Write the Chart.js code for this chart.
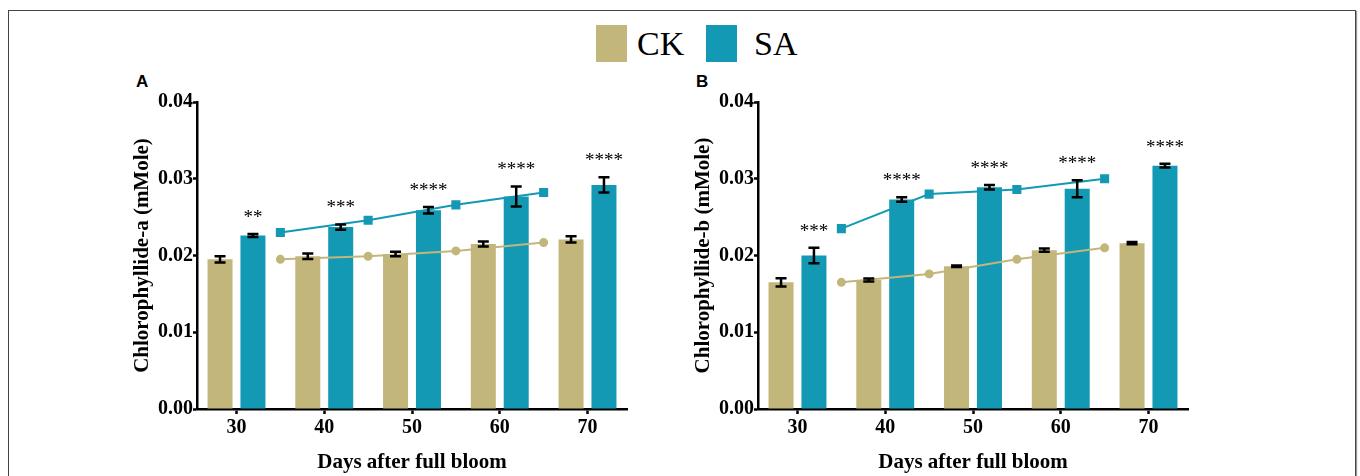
<!DOCTYPE html>
<html>
<head>
<meta charset="utf-8">
<script src="https://cdn.jsdelivr.net/npm/chart.js@4.4.1/dist/chart.umd.min.js"></script>
<style>
  html, body { margin: 0; padding: 0; background: #fff; }
  #wrap { position: relative; width: 1360px; height: 476px; overflow: hidden; background: #fff; }
  #frame { position: absolute; left: 8px; top: 10px; width: 1346px; height: 500px; border: 1.5px solid #444; box-shadow: 1px 1px 1px #999; }
  canvas { position: absolute; }
  .swatch { position: absolute; top: 25px; width: 31px; height: 37px; }
  .leg { position: absolute; top: 27px; font: 34px/34px "Liberation Serif", serif; color: #000; }
  .panel { position: absolute; top: 73px; font: bold 17px/17px "Liberation Sans", Arial, sans-serif; color: #000; }
</style>
</head>
<body>
<div id="wrap">
  <div id="frame"></div>
  <div class="swatch" style="left:596px;background:#c2b67b"></div>
  <div class="leg" style="left:637px">CK</div>
  <div class="swatch" style="left:706px;background:#1399b3"></div>
  <div class="leg" style="left:754px">SA</div>
  <div class="panel" style="left:136px">A</div>
  <div class="panel" style="left:696px">B</div>
  <canvas id="chartA" width="505" height="416" style="left:130px;top:60px"></canvas>
  <canvas id="chartB" width="505" height="416" style="left:691px;top:60px"></canvas>
</div>
<script>
(function() {
  'use strict';

  // Sampling days (bars) and the between-days positions used by the trend lines
  const days = [30, 40, 50, 60, 70];
  const lineDays = [35, 45, 55, 65];

  // Panel A: Chlorophyllide-a
  const ckA = [0.0195, 0.0199, 0.0202, 0.0215, 0.0221];
  const ckAErr = [0.0004, 0.00035, 0.0003, 0.00033, 0.0004];
  const saA = [0.0226, 0.0237, 0.0259, 0.0277, 0.0292];
  const saAErr = [0.0002, 0.00034, 0.00042, 0.0013, 0.001];
  const ckALine = [0.0195, 0.0199, 0.0206, 0.0217];
  const saALine = [0.0230, 0.0246, 0.0266, 0.0282];
  const sigA = ['**', '***', '****', '****', '****'];

  // Panel B: Chlorophyllide-b
  const ckB = [0.0165, 0.0168, 0.0186, 0.0207, 0.0216];
  const ckBErr = [0.00055, 0.0002, 0.0001, 0.0002, 0.00015];
  const saB = [0.0200, 0.0273, 0.0289, 0.0287, 0.0317];
  const saBErr = [0.001, 0.0003, 0.0003, 0.0011, 0.00025];
  const ckBLine = [0.0165, 0.0176, 0.0195, 0.0210];
  const saBLine = [0.0235, 0.0280, 0.0286, 0.0300];
  const sigB = ['***', '****', '****', '****', '****'];

  const yTicks = [0, 0.01, 0.02, 0.03, 0.04];

  const CK_COLOR = '#c2b67b';
  const SA_COLOR = '#1399b3';
  const SERIF = '"Liberation Serif", "Times New Roman", serif';

  function pts(xs, ys) {
    return xs.map((x, i) => ({ x: x, y: ys[i] }));
  }

  // Error bars on every bar dataset + significance stars above the SA bars
  const errorBarPlugin = {
    id: 'errorBars',
    afterDatasetsDraw(chart) {
      const ctx = chart.ctx;
      const yScale = chart.scales.y;
      ctx.save();
      ctx.strokeStyle = '#000';
      ctx.lineWidth = 2.5;
      chart.data.datasets.forEach((ds, di) => {
        if (!ds.errors) return;
        const meta = chart.getDatasetMeta(di);
        meta.data.forEach((bar, i) => {
          const v = ds.data[i].y;
          const e = ds.errors[i];
          const yTop = yScale.getPixelForValue(v + e);
          const yBot = yScale.getPixelForValue(v - e);
          ctx.beginPath();
          ctx.moveTo(bar.x, yTop);
          ctx.lineTo(bar.x, yBot);
          ctx.moveTo(bar.x - 5.5, yTop);
          ctx.lineTo(bar.x + 5.5, yTop);
          ctx.moveTo(bar.x - 5.5, yBot);
          ctx.lineTo(bar.x + 5.5, yBot);
          ctx.stroke();
          if (ds.stars) {
            ctx.fillStyle = '#000';
            ctx.font = '19px ' + SERIF;
            ctx.textAlign = 'center';
            ctx.textBaseline = 'alphabetic';
            ctx.fillText(ds.stars[i], bar.x, yTop - 11);
          }
        });
      });
      ctx.restore();
    }
  };

  function makeChart(canvasId, ck, ckErr, sa, saErr, ckLine, saLine, stars, yTitle) {
    const ctx = document.getElementById(canvasId).getContext('2d');
    return new Chart(ctx, {
      type: 'bar',
      data: {
        datasets: [
          {
            type: 'line', label: 'SA trend', data: pts(lineDays, saLine),
            borderColor: SA_COLOR, backgroundColor: SA_COLOR, borderWidth: 2,
            pointStyle: 'rect', pointRadius: 5, order: 0
          },
          {
            type: 'line', label: 'CK trend', data: pts(lineDays, ckLine),
            borderColor: CK_COLOR, backgroundColor: CK_COLOR, borderWidth: 2,
            pointStyle: 'circle', pointRadius: 3.5, order: 1
          },
          {
            label: 'CK', data: pts(days, ck), errors: ckErr,
            backgroundColor: CK_COLOR, order: 2
          },
          {
            label: 'SA', data: pts(days, sa), errors: saErr, stars: stars,
            backgroundColor: SA_COLOR, order: 2
          }
        ]
      },
      options: {
        responsive: false,
        animation: false,
        maintainAspectRatio: false,
        layout: { padding: { top: 42, right: 8, bottom: 0, left: 0 } },
        datasets: { bar: { categoryPercentage: 0.75, barPercentage: 0.76, grouped: true } },
        plugins: {
          legend: { display: false },
          tooltip: { enabled: false },
          title: { display: false }
        },
        scales: {
          x: {
            type: 'linear',
            min: 25.5,
            max: 74.5,
            offset: false,
            afterBuildTicks(scale) { scale.ticks = days.map(d => ({ value: d })); },
            afterFit(scale) { scale.height = 67; },
            ticks: {
              color: '#000',
              padding: 2,
              font: { family: SERIF, size: 20, weight: 'bold' },
              callback: v => String(v)
            },
            grid: { offset: false, drawOnChartArea: false, drawTicks: true, tickLength: 5, tickWidth: 2.5, tickColor: '#000' },
            border: { display: true, color: '#000', width: 2.5 },
            title: {
              display: true, text: 'Days after full bloom', color: '#000',
              font: { family: SERIF, size: 21, weight: 'bold' },
              padding: { top: 0, bottom: 1 }
            }
          },
          y: {
            min: 0,
            max: 0.04,
            afterBuildTicks(scale) { scale.ticks = yTicks.map(v => ({ value: v })); },
            afterFit(scale) { scale.width = 67; },
            ticks: {
              color: '#000',
              padding: 0,
              font: { family: SERIF, size: 20, weight: 'bold' },
              callback: v => Number(v).toFixed(2)
            },
            grid: { drawOnChartArea: false, drawTicks: true, tickLength: 4, tickWidth: 2.5, tickColor: '#000' },
            border: { display: true, color: '#000', width: 2.5 },
            title: {
              display: true, text: yTitle, color: '#000',
              font: { family: SERIF, size: 21, weight: 'bold' },
              padding: { top: 0, bottom: 0 }
            }
          }
        }
      },
      plugins: [errorBarPlugin]
    });
  }

  makeChart('chartA', ckA, ckAErr, saA, saAErr, ckALine, saALine, sigA, 'Chlorophyllide-a (mMole)');
  makeChart('chartB', ckB, ckBErr, saB, saBErr, ckBLine, saBLine, sigB, 'Chlorophyllide-b (mMole)');
})();
</script>
</body>
</html>
